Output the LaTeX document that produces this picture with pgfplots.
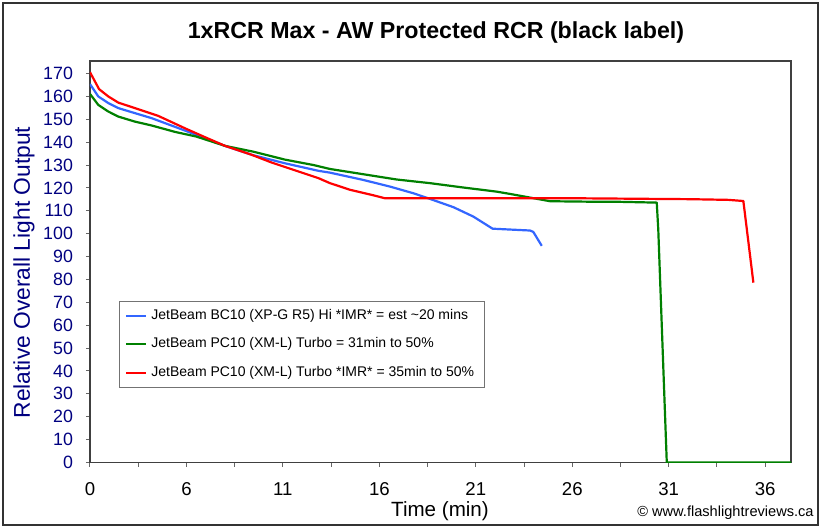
\documentclass[border=0pt]{standalone}
\usepackage{pgfplots}
\pgfplotsset{compat=1.18}
\usepackage{fontspec}
\setmainfont{Liberation Sans}
\definecolor{navy}{RGB}{0,0,128}
\definecolor{lblue}{RGB}{51,102,255}
\definecolor{dgreen}{RGB}{0,128,0}
\definecolor{lred}{RGB}{255,0,0}
\begin{document}
\begin{tikzpicture}
\useasboundingbox (-45pt,-33.25pt) rectangle (366pt,231.25pt);
\draw[line width=1pt, color=black!80] (-43.5pt,-31.25pt) rectangle (364pt,229.75pt);
\begin{axis}[
 at={(0pt,0pt)}, anchor=south west,
 scale only axis, width=350.5pt, height=200.75pt,
 xmin=0, xmax=36.34, ymin=0, ymax=175.5,
 axis line style={draw=black!75, line width=0.7pt},
 tick align=outside, xtick pos=bottom, ytick pos=left,
 tick style={draw=black!60, line width=0.5pt},
 major tick length=2pt, minor tick length=2pt,
 xtick={0,5,...,35}, xticklabels={0,6,11,16,21,26,31,36},
 minor xtick={2.5,7.5,...,32.5},
 ytick={0,10,...,170},
 /pgf/number format/assume math mode=true,
 yticklabel style={font=\fontsize{8.9}{11}\selectfont, text=navy, xshift=-3pt},
 xticklabel style={font=\fontsize{9.3}{11}\selectfont, yshift=-4.5pt},
 legend cell align=left,
 legend style={at={(0.0414,0.4022)}, anchor=north west, draw=black!55, line width=0.4pt,
   font=\fontsize{7}{8}\selectfont, inner xsep=3pt, inner ysep=2pt, row sep=3.6pt},
 legend image code/.code={\draw[#1, line width=1pt] (0pt,0pt) -- (10pt,0pt);},
 every axis plot/.append style={line width=1.1pt, line join=round},
]
\addplot[lblue] coordinates {
(0,165.4) (0.43,160) (0.95,157.1) (1.47,154.9) (2.33,152.7) (3.2,150.5) (4.92,145.1)
(7.0,138.4) (8.38,134.5) (10.1,130.8) (11.84,127.5) (12.44,126.7) (14.17,123.5)
(15.55,120.6) (16.76,117.7) (17.63,115.2) (18.84,111.6) (19.87,107.5) (20.87,102.2)
(22.81,101.4) (22.98,100.8) (23.42,94.7)
};
\addlegendentry{JetBeam BC10 (XP-G R5) Hi *IMR* = est \textasciitilde 20 mins}
\addplot[dgreen] coordinates {
(0,161.1) (0.43,156.3) (0.95,153.4) (1.47,151.2) (2.33,149.0) (3.2,147.3) (4.41,144.5)
(5.5,142.5) (7.0,138.4) (8.5,135.8) (10.1,132.4) (11.6,130) (12.44,128.3) (14.17,126.0)
(15.9,123.7) (17.63,122.1) (19.35,120.2) (21.08,118.4) (21.77,117.4) (22.81,115.8)
(23.85,114.2) (25.92,114.0) (27.13,114.0) (29.38,113.6) (29.46,101.7) (29.9,0) (36.34,0)
};
\addlegendentry{JetBeam PC10 (XM-L) Turbo = 31min to 50\%}
\addplot[lred] coordinates {
(0,170.6) (0.47,163.2) (0.95,160) (1.47,157.3) (2.33,154.9) (3.54,151.5) (4.92,146.1)
(5.96,142.2) (7.0,138.4) (8.38,134.5) (9.42,131.1) (11.84,124.3) (12.44,122.1)
(13.48,119.2) (14.69,116.8) (15.29,115.5) (25.14,115.5) (31.1,115.1) (33.09,114.8)
(33.87,114.3) (34.39,78.6)
};
\addlegendentry{JetBeam PC10 (XM-L) Turbo *IMR* = 35min to 50\%}
\end{axis}
\node[font=\bfseries\fontsize{11.6}{13}\selectfont] at (173pt,214.75pt) {1xRCR Max - AW Protected RCR (black label)};
\node[rotate=90, font=\fontsize{11.4}{13}\selectfont, text=navy] at (-33pt,95pt) {Relative Overall Light Output};
\node[font=\fontsize{10.3}{12}\selectfont] at (175pt,-24.5pt) {Time (min)};
\node[anchor=east, inner xsep=0pt, font=\fontsize{7.3}{9}\selectfont] at (362pt,-25pt) {© www.flashlightreviews.ca};
\end{tikzpicture}
\end{document}
